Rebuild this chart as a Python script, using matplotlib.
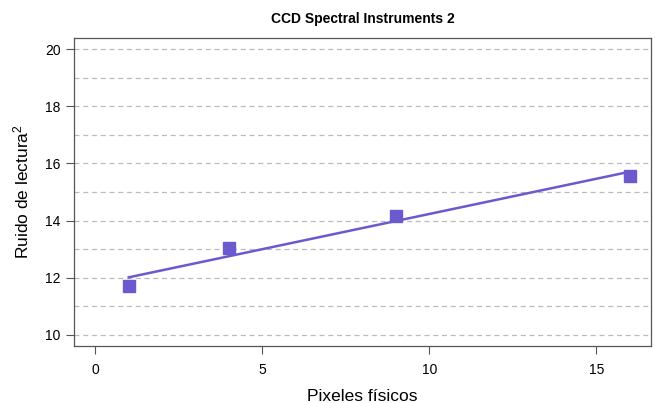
import numpy as np
import matplotlib
matplotlib.use("Agg")
import matplotlib.pyplot as plt

plt.rcParams['font.family'] = ['Liberation Sans', 'DejaVu Sans']
plt.rcParams['mathtext.fontset'] = 'custom'
plt.rcParams['mathtext.rm'] = 'Liberation Sans'
plt.rcParams['mathtext.it'] = 'Liberation Sans'

# data
pixeles = [1, 4, 9, 16]
ruido = [11.70, 13.04, 14.16, 15.56]
titulo = "CCD Spectral Instruments 2"
col = "#6A5ACD"

# linear fit through the points
b, a = np.polyfit(pixeles, ruido, 1)
xf = np.array([min(pixeles), max(pixeles)])

fig = plt.figure(figsize=(6.55, 4.03), dpi=100)
ax = fig.add_axes([0.113, 0.141, 0.881, 0.765])

for yv in range(10, 21):
    ax.axhline(yv, color="#bbbbbb", lw=0.9, ls=(0, (4, 3)), zorder=0)

ax.plot(xf, a + b * xf, color=col, lw=1.8, zorder=2)
ax.plot(pixeles, ruido, ls="none", marker="s", ms=8, color=col, zorder=3)

ax.set_xlim(-0.64, 16.64)
ax.set_ylim(9.6, 20.4)
ax.set_xticks([0, 5, 10, 15])
ax.set_yticks([10, 12, 14, 16, 18, 20])
ax.tick_params(labelsize=10, length=6, color="#555555", width=0.8)
ax.tick_params(axis="x", pad=6)
for s in ax.spines.values():
    s.set_color("#555555")
    s.set_linewidth(0.9)

ax.set_xlabel("Pixeles físicos", fontsize=12.5, labelpad=9)
ax.set_ylabel("Ruido de lectura$^2$", fontsize=12.5, labelpad=10)
ax.set_title(titulo, fontsize=10, fontweight="bold", pad=11)

fig.savefig("out.png", dpi=100)
